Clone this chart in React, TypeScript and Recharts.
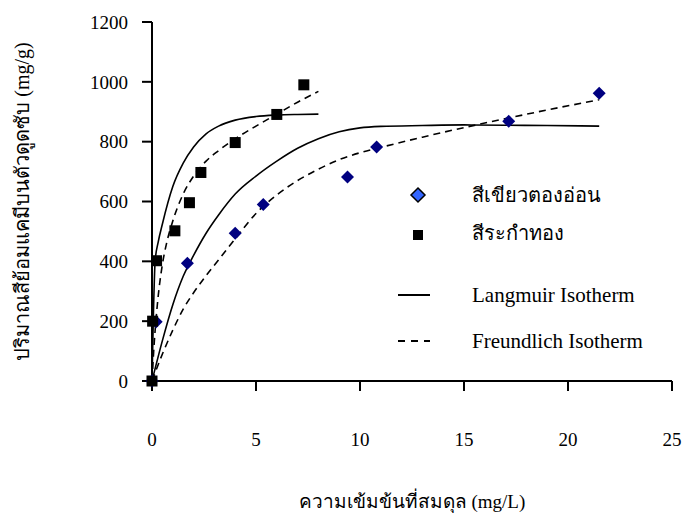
import React from 'react';
import { ComposedChart, Line, Scatter, XAxis, YAxis } from 'recharts';

// measured points
const goldC = [0, 0.03, 0.22, 1.1, 1.8, 2.35, 4.0, 6.0, 7.3];
const goldQ = [0, 200, 402, 502, 596, 697, 797, 891, 990];
const greenC = [0, 0.2, 1.7, 4.0, 5.35, 9.4, 10.8, 17.15, 21.5];
const greenQ = [0, 198, 394, 494, 590, 682, 782, 868, 962];

// fitted isotherms
const goldLangC = [0, 0.06, 0.15, 0.3, 0.5, 1.0, 1.5, 2.0, 2.6, 3.2, 4.0, 5.0, 6.0, 7.0, 8.0];
const goldLangQ = [0, 200, 400, 465, 525, 650, 728, 782, 826, 852, 872, 884, 889, 891, 892];
const goldFreuC = [0, 0.1, 0.25, 0.5, 0.7, 1.0, 1.5, 2.0, 2.6, 3.2, 3.9, 5.0, 6.0, 7.0, 8.0];
const goldFreuQ = [0, 120, 250, 390, 460, 535, 625, 685, 735, 770, 805, 852, 892, 932, 968];
const greenLangC = [0, 0.5, 1.0, 1.5, 2.0, 2.6, 3.2, 4.0, 5.0, 6.0, 7.0, 8.0, 9.0, 10.0, 11, 13, 15, 17, 19, 21.5];
const greenLangQ = [0, 135, 255, 350, 420, 494, 555, 625, 685, 735, 778, 810, 833, 846, 851, 854, 856, 855, 854, 852];
const greenFreuC = [0, 0.5, 1.0, 1.5, 2.0, 2.6, 3.2, 4.0, 5.0, 6.0, 7.0, 8.0, 9.0, 10.0, 11, 13, 15, 17, 19, 21.5];
const greenFreuQ = [0, 90, 170, 240, 295, 352, 405, 475, 560, 622, 670, 708, 740, 763, 781, 815, 847, 877, 906, 940];

const xTicks = [0, 5, 10, 15, 20, 25];
const yTicks = [0, 200, 400, 600, 800, 1000, 1200];

const zip = (xs: number[], ys: number[]) => xs.map((x, i) => ({ x, y: ys[i] }));

const gold = zip(goldC, goldQ);
const green = zip(greenC, greenQ);
const goldLang = zip(goldLangC, goldLangQ);
const goldFreu = zip(goldFreuC, goldFreuQ);
const greenLang = zip(greenLangC, greenLangQ);
const greenFreu = zip(greenFreuC, greenFreuQ);

const FONT = '"Liberation Serif", "Times New Roman", serif';

const Diamond = (props: any) => {
  const { cx, cy } = props;
  const r = 6.5;
  return (
    <polygon
      points={`${cx},${cy - r} ${cx + r},${cy} ${cx},${cy + r} ${cx - r},${cy}`}
      fill="#000080"
    />
  );
};

const Square = (props: any) => {
  const { cx, cy } = props;
  const h = 5.5;
  return <rect x={cx - h} y={cy - h} width={h * 2} height={h * 2} fill="#000" />;
};

const LegendBox = () => {
  const row = (top: number, icon: React.ReactNode, text: string, size: number) => (
    <div style={{ position: 'absolute', left: 0, top, height: 30, width: 300, display: 'flex', alignItems: 'center' }}>
      <svg width={60} height={30} style={{ flex: 'none' }}>{icon}</svg>
      <span style={{ marginLeft: 42, fontSize: size, fontFamily: FONT, color: '#000', whiteSpace: 'nowrap' }}>{text}</span>
    </div>
  );
  return (
    <div style={{ position: 'absolute', left: 370, top: 180, width: 300, height: 200 }}>
      {row(0, <polygon points="48,8 55,15 48,22 41,15" fill="#3366FF" stroke="#000" strokeWidth={1.5} />, 'สีเขียวตองอ่อน', 20)}
      {row(38, <rect x={43} y={12} width={10} height={10} fill="#000" />, 'สีระกำทอง', 20)}
      {row(100, <line x1={28} y1={15} x2={65} y2={15} stroke="#000" strokeWidth={2} />, 'Langmuir Isotherm', 21)}
      {row(146, <line x1={28} y1={15} x2={65} y2={15} stroke="#000" strokeWidth={2} strokeDasharray="7 6" />, 'Freundlich Isotherm', 21)}
    </div>
  );
};

export default function App() {
  return (
    <div style={{ position: 'absolute', left: 0, top: 0, width: 683, height: 525, background: '#fff' }}>
      <ComposedChart width={683} height={525} margin={{ top: 22, right: 11, bottom: 84, left: 92 }}>
        <XAxis
          type="number"
          dataKey="x"
          domain={[0, 25]}
          ticks={xTicks}
          interval={0}
          tickSize={10}
          tickMargin={42}
          axisLine={{ stroke: '#000', strokeWidth: 2 }}
          tickLine={{ stroke: '#000', strokeWidth: 2 }}
          tick={{ fill: '#000', fontSize: 19, fontFamily: FONT }}
          height={60}
          label={{ value: 'ความเข้มข้นที่สมดุล (mg/L)', position: 'bottom', offset: 54, fill: '#000', fontSize: 19, fontFamily: FONT }}
        />
        <YAxis
          type="number"
          dataKey="y"
          domain={[0, 1200]}
          ticks={yTicks}
          interval={0}
          width={60}
          tickSize={10}
          tickMargin={14}
          axisLine={{ stroke: '#000', strokeWidth: 2 }}
          tickLine={{ stroke: '#000', strokeWidth: 2 }}
          tick={{ fill: '#000', fontSize: 19, fontFamily: FONT }}
          label={{
            value: 'ปริมาณสีย้อมแคมีบนตัวดูดซับ (mg/g)',
            angle: -90,
            position: 'left',
            offset: 70,
            fill: '#000',
            fontSize: 20,
            fontFamily: FONT,
            style: { textAnchor: 'middle' },
          }}
        />
        <Line data={goldLang} dataKey="y" type="monotone" stroke="#000" strokeWidth={1.6} dot={false} isAnimationActive={false} />
        <Line data={goldFreu} dataKey="y" type="monotone" stroke="#000" strokeWidth={1.6} strokeDasharray="7 5" dot={false} isAnimationActive={false} />
        <Line data={greenLang} dataKey="y" type="monotone" stroke="#000" strokeWidth={1.6} dot={false} isAnimationActive={false} />
        <Line data={greenFreu} dataKey="y" type="monotone" stroke="#000" strokeWidth={1.6} strokeDasharray="7 5" dot={false} isAnimationActive={false} />
        <Scatter data={green} dataKey="y" shape={<Diamond />} isAnimationActive={false} />
        <Scatter data={gold} dataKey="y" shape={<Square />} isAnimationActive={false} />
      </ComposedChart>
      <LegendBox />
    </div>
  );
}
